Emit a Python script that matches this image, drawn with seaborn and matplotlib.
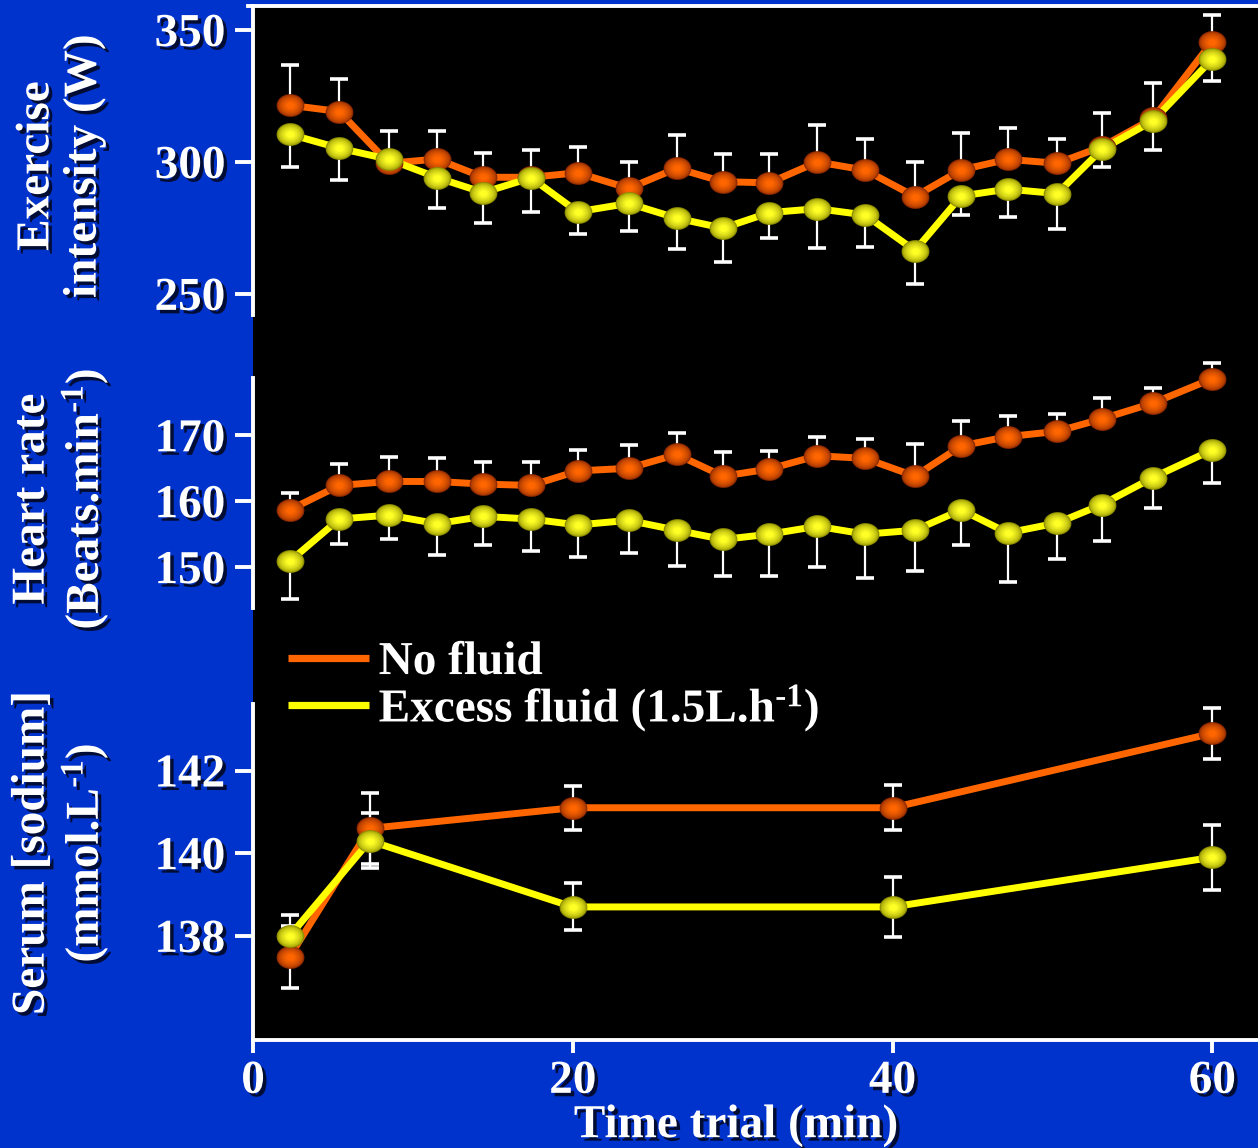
import numpy as np
import pandas as pd
import seaborn as sns
import matplotlib
matplotlib.use("Agg")
import matplotlib.pyplot as plt
from matplotlib.path import Path
from matplotlib.lines import Line2D
from matplotlib.patches import Rectangle
import matplotlib.patheffects as pe

# ---------------- data ----------------
time_trial = [2.3, 5.4, 8.5, 11.5, 14.4, 17.4, 20.3, 23.5, 26.5, 29.4,
              32.3, 35.3, 38.3, 41.4, 44.3, 47.2, 50.3, 53.1, 56.3, 60.0]

power_none = [321.5, 319.1, 299.5, 301.1, 294.2, 294.2, 295.9, 290.0, 297.6, 292.5,
              292.1, 300.0, 296.9, 286.9, 297.0, 301.0, 299.5, 305.8, 316.5, 345.6]
power_none_sem = [15.4, 12.3, 12.1, 10.7, 9.1, 10.3, 9.8, 9.8, 12.7, 10.7,
                  10.9, 13.9, 11.9, 13.0, 14.0, 11.7, 9.1, 12.6, 13.5, 10.0]
power_excess = [310.5, 305.2, 301.0, 294.1, 288.4, 294.0, 281.1, 284.3, 278.7, 274.9,
                280.8, 282.3, 279.9, 266.4, 287.1, 289.7, 288.0, 304.8, 315.6, 339.0]
power_excess_sem = [12.4, 12.1, 2.0, 11.4, 11.7, 13.0, 8.5, 10.5, 11.6, 12.7,
                    9.8, 14.9, 12.0, 12.6, 7.3, 10.7, 13.5, 6.9, 11.1, 8.3]

hr_none = [158.7, 162.4, 163.0, 163.0, 162.6, 162.4, 164.6, 165.0, 167.1, 163.8,
           164.9, 166.9, 166.5, 163.8, 168.4, 169.8, 170.6, 172.5, 174.9, 178.6]
hr_none_sem = [2.6, 3.2, 3.7, 3.6, 3.3, 3.5, 3.1, 3.5, 3.2, 3.7,
               2.7, 2.9, 2.9, 4.9, 3.7, 3.2, 2.7, 3.1, 2.3, 2.4]
hr_excess = [150.9, 157.3, 157.9, 156.6, 157.7, 157.3, 156.4, 157.1, 155.6, 154.2,
             155.0, 156.2, 155.0, 155.6, 158.7, 155.2, 156.7, 159.5, 163.6, 167.8]
hr_excess_sem = [5.7, 3.8, 3.7, 4.8, 4.4, 4.9, 4.8, 5.0, 5.4, 5.6,
                 6.3, 6.2, 6.6, 6.2, 5.4, 7.4, 5.5, 5.5, 4.6, 5.1]

time_sodium = [2.3, 7.3, 20.0, 40.0, 60.0]
na_none = [137.5, 140.6, 141.1, 141.1, 142.9]
na_none_sem = [0.75, 0.85, 0.53, 0.55, 0.61]
na_excess = [138.0, 140.3, 138.7, 138.7, 139.9]
na_excess_sem = [0.50, 0.67, 0.57, 0.72, 0.78]

conditions = ["No fluid", r"Excess fluid (1.5L.h$^{\text{-1}}$)"]
line_colors = ["#FF6600", "#FFFF00"]
marker_edge = [(0.55, 0.16, 0.0), (0.55, 0.55, 0.0)]
marker_core = [(1.0, 0.40, 0.0), (1.0, 1.0, 0.15)]

power_ticks = [250, 300, 350]
hr_ticks = [150, 160, 170]
na_ticks = [138, 140, 142]
x_ticks = [0, 20, 40, 60]

# ---------------- style ----------------
BG = "#0033CC"
sns.set_style("ticks")
plt.rcParams["font.family"] = ["Liberation Serif", "DejaVu Serif"]
plt.rcParams["font.weight"] = "bold"
plt.rcParams["mathtext.fontset"] = "custom"
plt.rcParams["mathtext.rm"] = "Liberation Serif:bold"
plt.rcParams["mathtext.bf"] = "Liberation Serif:bold"
plt.rcParams["mathtext.it"] = "Liberation Serif:bold"

FS = 34
shadow = [pe.SimplePatchShadow(offset=(2.5, -2.5), shadow_rgbFace="black", alpha=0.75),
          pe.Normal()]

W, H = 1258, 1148
fig = plt.figure(figsize=(W / 100, H / 100), dpi=100, facecolor=BG)

# black plotting field behind the three panels
fig.patches.append(Rectangle((253 / W, 1 - 1040 / H), 1 - 253 / W, (1040 - 6) / H,
                             transform=fig.transFigure, facecolor="black",
                             edgecolor="none", zorder=-5))

def frac_box(top_px, bot_px):
    return [253 / W, 1 - bot_px / H, 1 - 253 / W, (bot_px - top_px) / H]

ax_p = fig.add_axes(frac_box(6, 315))
ax_h = fig.add_axes(frac_box(378, 608))
ax_n = fig.add_axes(frac_box(704, 1040))

theta = np.linspace(0, 2 * np.pi, 80)
ellipse = Path(np.column_stack([np.cos(theta), 0.82 * np.sin(theta)]), closed=True)


def shaded_markers(ax, x, y, k, z):
    n = 10
    for i in range(n):
        f = 1.0 - 0.75 * i / (n - 1)
        t = (i / (n - 1)) ** 0.55
        c = tuple(marker_edge[k][j] + (marker_core[k][j] - marker_edge[k][j]) * t
                  for j in range(3))
        ax.plot(x, y, linestyle="none", marker=ellipse, markersize=20 * f,
                markerfacecolor=c, markeredgewidth=0, zorder=z, clip_on=False)


def draw_panel(ax, x, ys, sems, sides):
    rows = []
    for k, (cond, yv) in enumerate(zip(conditions, ys)):
        for xi, yi in zip(x, yv):
            rows.append({"time": xi, "value": yi, "condition": cond})
    df = pd.DataFrame(rows)
    for k in range(2):
        sem = np.array(sems[k])
        lower = sem if sides[k] in ("down", "both") else np.zeros_like(sem)
        upper = sem if sides[k] in ("up", "both") else np.zeros_like(sem)
        ax.errorbar(x, ys[k], yerr=[lower, upper], fmt="none", ecolor="white",
                    elinewidth=1.6, capsize=6.8, capthick=2.6, zorder=2, clip_on=False)
    sns.lineplot(data=df, x="time", y="value", hue="condition", hue_order=conditions,
                 palette=line_colors, estimator=None, sort=False, linewidth=5.0,
                 legend=False, ax=ax, zorder=3)
    for line in ax.lines:
        line.set_solid_capstyle("butt")
        line.set_clip_on(False)
    for k in range(2):
        shaded_markers(ax, x, ys[k], k, 4 + k)


draw_panel(ax_p, time_trial, [power_none, power_excess],
           [power_none_sem, power_excess_sem], ["up", "down"])
draw_panel(ax_h, time_trial, [hr_none, hr_excess],
           [hr_none_sem, hr_excess_sem], ["up", "down"])
draw_panel(ax_n, time_sodium, [na_none, na_excess],
           [na_none_sem, na_excess_sem], ["both", "both"])

ax_p.set_ylim(242.0, 359.1)
ax_h.set_ylim(143.8, 178.7)
ax_n.set_ylim(135.48, 143.61)
ax_p.set_yticks(power_ticks)
ax_h.set_yticks(hr_ticks)
ax_n.set_yticks(na_ticks)

for ax in (ax_p, ax_h, ax_n):
    ax.set_xlim(0, 62.86)
    ax.set_facecolor("none")
    ax.set_xlabel("")
    ax.set_ylabel("")
    for s in ax.spines.values():
        s.set_visible(False)
        s.set_color("white")
        s.set_linewidth(2.8)
    ax.spines["left"].set_visible(True)
    ax.tick_params(axis="y", colors="white", length=13, width=2.8, pad=7,
                   labelsize=FS, direction="out")
    for lab in ax.get_yticklabels():
        lab.set_fontweight("bold")
        lab.set_path_effects(shadow)

ax_p.spines["top"].set_visible(True)
ax_p.spines["top"].set_bounds(-0.3, 62.86)
for ax in (ax_p, ax_h):
    ax.set_xticks([])

ax_n.spines["bottom"].set_visible(True)
ax_n.set_xticks(x_ticks)
ax_n.tick_params(axis="x", colors="white", length=9, width=2.8, pad=6,
                 labelsize=FS, direction="out")
for lab in ax_n.get_xticklabels():
    lab.set_fontweight("bold")
    lab.set_path_effects(shadow)

# axis titles
def ylab(text, y_px):
    t = fig.text(61 / W, 1 - y_px / H, text, rotation=90, ha="center", va="center",
                 multialignment="center", color="white", fontsize=FS,
                 fontweight="bold", linespacing=1.15)
    t.set_path_effects(shadow)

ylab("Exercise\nintensity (W)", 166)
ylab("Heart rate\n" + r"(Beats.min$^{\text{-1}}$)", 499)
ylab("Serum [sodium]\n" + r"(mmol.L$^{\text{-1}}$)", 853)

xl = fig.text(736 / W, 1 - 1126 / H, "Time trial (min)", ha="center", va="center",
              color="white", fontsize=FS, fontweight="bold")
xl.set_path_effects(shadow)

# legend
handles = [Line2D([], [], color=c, linewidth=5.2, solid_capstyle="butt") for c in line_colors]
leg = fig.legend(handles, conditions, loc="upper left",
                 bbox_to_anchor=(288 / W, 1 - 641 / H), frameon=False,
                 fontsize=FS, handlelength=1.72, handletextpad=0.2,
                 labelspacing=-0.02, borderpad=0, borderaxespad=0)
for t in leg.get_texts():
    t.set_color("white")
    t.set_fontweight("bold")
    t.set_path_effects(shadow)

fig.savefig("out.png", dpi=100, facecolor=BG)
